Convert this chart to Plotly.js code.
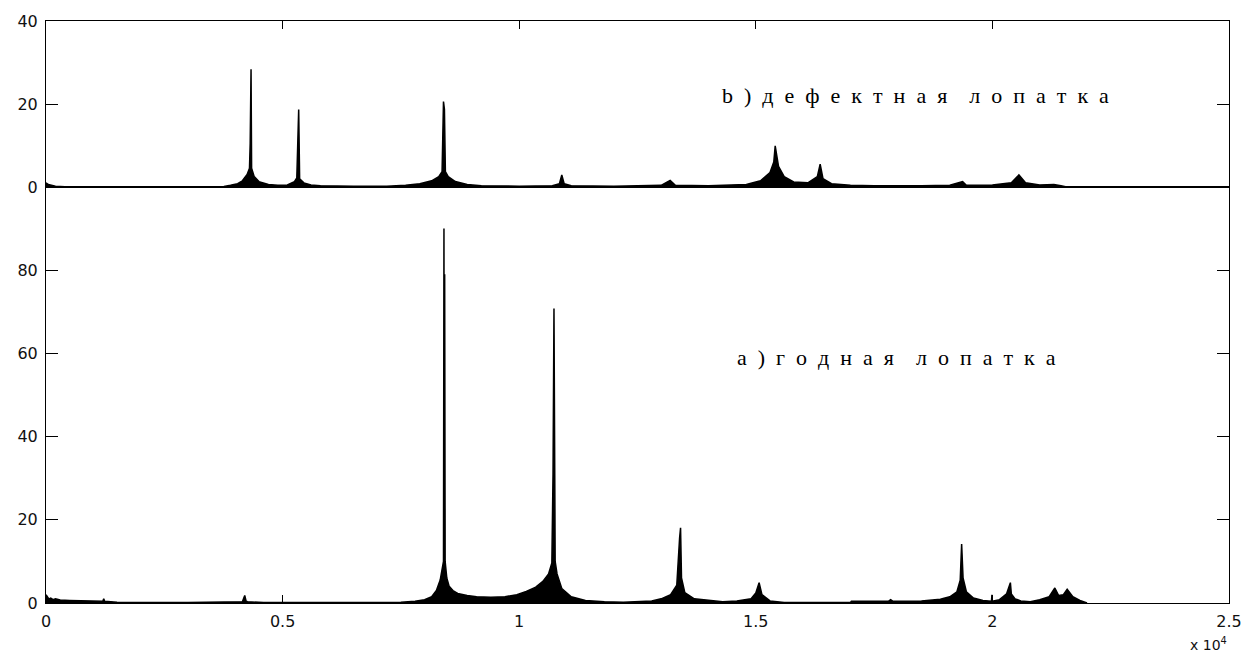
<!DOCTYPE html>
<html>
<head>
<meta charset="utf-8">
<script src="https://cdn.plot.ly/plotly-3.0.1.min.js"></script>
<style>html,body{margin:0;padding:0;background:#fff;}#chart{width:1247px;height:656px;}</style>
</head>
<body>
<div id="chart"></div>
<script>
// a) good blade spectrum (bottom panel)
const goodFreq = [0,30,60,100,150,200,300,500,800,1200,1220,1240,1500,2000,3000,4000,4150,4200,4230,4260,4400,4600,5500,7000,7500,7800,8000,8150,8250,8330,8380,8400,8410,8418,8425,8435,8470,8520,8600,8700,8900,9100,9400,9700,9950,10150,10350,10500,10620,10690,10715,10735,10745,10760,10800,10900,11100,11400,11800,12200,12800,13000,13200,13330,13390,13410,13430,13500,13700,14000,14300,14600,14900,15000,15070,15130,15300,15600,16500,17000,17020,17800,17850,17900,18500,18900,19100,19250,19320,19350,19380,19450,19600,19800,19980,19990,20000,20150,20300,20380,20400,20480,20600,20800,21000,21200,21320,21400,21500,21580,21700,21850,22000];
const goodAmp  = [2.0,1.5,1.0,1.2,0.8,1.0,0.7,0.6,0.5,0.4,1.0,0.4,0.2,0.1,0.1,0.15,0.3,1.8,0.4,0.3,0.2,0.1,0.1,0.1,0.2,0.4,0.8,1.5,3.0,5.5,9.5,10.0,90.0,9.0,79.0,10.0,6.0,4.0,3.0,2.3,1.8,1.5,1.4,1.5,2.0,2.8,3.8,5.2,7.0,9.6,31.0,70.8,37.0,10.0,7.0,3.5,1.5,0.6,0.3,0.2,0.5,1.0,2.0,4.3,15.7,18.1,6.0,2.5,1.0,0.6,0.3,0.5,1.0,2.4,4.9,2.0,0.5,0.1,0.1,0.1,0.4,0.4,0.8,0.4,0.5,0.9,1.5,2.7,5.5,14.2,6.0,2.7,1.2,0.6,0.4,2.0,0.4,0.8,2.2,4.9,2.2,1.0,0.5,0.3,0.8,1.5,3.6,1.8,2.0,3.3,1.5,0.6,0.0];

// b) defective blade spectrum (top panel)
const defFreq = [0,50,200,400,3000,3760,3900,4050,4150,4250,4300,4315,4333,4345,4400,4500,4700,4900,5100,5250,5300,5325,5340,5360,5450,5600,5800,6500,7200,7600,7900,8150,8300,8370,8400,8420,8440,8500,8650,8900,9200,10000,10700,10850,10900,10950,11100,12000,13000,13190,13300,14000,14800,15100,15300,15380,15410,15480,15600,15800,16100,16300,16360,16420,16600,17000,17500,18500,19100,19370,19450,20000,20400,20560,20700,21000,21300,21450,21570];
const defAmp  = [1.0,0.6,0.2,0.05,0.05,0.1,0.4,0.8,1.5,3.0,4.5,10.5,28.4,4.5,2.5,1.3,0.6,0.4,0.5,1.3,2.2,13.9,18.7,2.0,1.0,0.5,0.3,0.2,0.2,0.4,0.8,1.5,2.5,3.7,20.6,18.7,3.7,2.5,1.3,0.6,0.3,0.2,0.3,0.8,2.9,0.8,0.3,0.2,0.4,1.6,0.4,0.3,0.6,1.5,3.5,6.0,9.9,5.0,2.5,1.2,1.0,2.5,5.5,2.0,0.8,0.4,0.3,0.3,0.4,1.3,0.4,0.5,1.0,2.9,1.0,0.5,0.6,0.3,0.0];

const xTickVals = [0,5000,10000,15000,20000,25000];
const xTickText = ['0','0.5','1','1.5','2','2.5'];
const topYTicks = [0,20,40];
const botYTicks = [0,20,40,60,80];

const labelTop = 'b\u2002)\u2002д\u2002е\u2002ф\u2002е\u2002к\u2002т\u2002н\u2002а\u2002я\u2002\u2002л\u2002о\u2002п\u2002а\u2002т\u2002к\u2002а';
const labelBot = 'а\u2002)\u2002г\u2002о\u2002д\u2002н\u2002а\u2002я\u2002\u2002л\u2002о\u2002п\u2002а\u2002т\u2002к\u2002а';

const tickFont = {family:'DejaVu Sans, sans-serif', size:16, color:'#111'};

const traces = [
  {x: goodFreq, y: goodAmp, xaxis:'x', yaxis:'y', type:'scatter', mode:'lines',
   line:{color:'#000', width:1.5}, fill:'tozeroy', fillcolor:'#000', hoverinfo:'skip'},
  {x: defFreq, y: defAmp, xaxis:'x2', yaxis:'y2', type:'scatter', mode:'lines',
   line:{color:'#000', width:1.5}, fill:'tozeroy', fillcolor:'#000', hoverinfo:'skip'}
];

const split = (603-187)/582;

const layout = {
  width:1247, height:656,
  margin:{l:46, r:18, t:21, b:53, pad:0},
  paper_bgcolor:'#fff', plot_bgcolor:'#fff',
  showlegend:false,
  xaxis:{domain:[0,1], anchor:'y', range:[0,25000], tickvals:xTickVals, ticktext:xTickText,
    ticks:'inside', ticklen:8, tickcolor:'#000', showline:true, linecolor:'#000', linewidth:1,
    mirror:true, showgrid:false, zeroline:false, tickfont:tickFont, ticklabelstandoff:4},
  yaxis:{domain:[0,split], anchor:'x', range:[0,100], tickvals:botYTicks,
    ticks:'inside', ticklen:12, tickcolor:'#000', showline:true, linecolor:'#000', linewidth:1,
    mirror:'ticks', showgrid:false, zeroline:false, tickfont:tickFont, ticklabelstandoff:4},
  xaxis2:{domain:[0,1], anchor:'y2', matches:'x', range:[0,25000], tickvals:xTickVals,
    side:'top', showticklabels:false,
    ticks:'inside', ticklen:8, tickcolor:'#000', showline:true, linecolor:'#000', linewidth:1,
    mirror:true, showgrid:false, zeroline:false},
  yaxis2:{domain:[split,1], anchor:'x2', range:[0,40], tickvals:topYTicks,
    ticks:'inside', ticklen:12, tickcolor:'#000', showline:true, linecolor:'#000', linewidth:1,
    mirror:'ticks', showgrid:false, zeroline:false, tickfont:tickFont, ticklabelstandoff:4},
  annotations:[
    {text:labelTop, xref:'paper', yref:'y2', x:(720-46)/1183, y:22, xanchor:'left', yanchor:'middle',
     showarrow:false, font:{family:'Liberation Serif, Times New Roman, serif', size:22, color:'#000'}},
    {text:labelBot, xref:'paper', yref:'y', x:(735-46)/1183, y:59, xanchor:'left', yanchor:'middle',
     showarrow:false, font:{family:'Liberation Serif, Times New Roman, serif', size:22, color:'#000'}},
    {text:'x 10<sup>4</sup>', xref:'paper', yref:'paper', x:1.0, y:-0.089, xanchor:'right', yanchor:'bottom',
     showarrow:false, font:{family:'DejaVu Sans, sans-serif', size:14, color:'#111'}}
  ]
};

Plotly.newPlot('chart', traces, layout, {staticPlot:true, displayModeBar:false});
</script>
</body>
</html>
